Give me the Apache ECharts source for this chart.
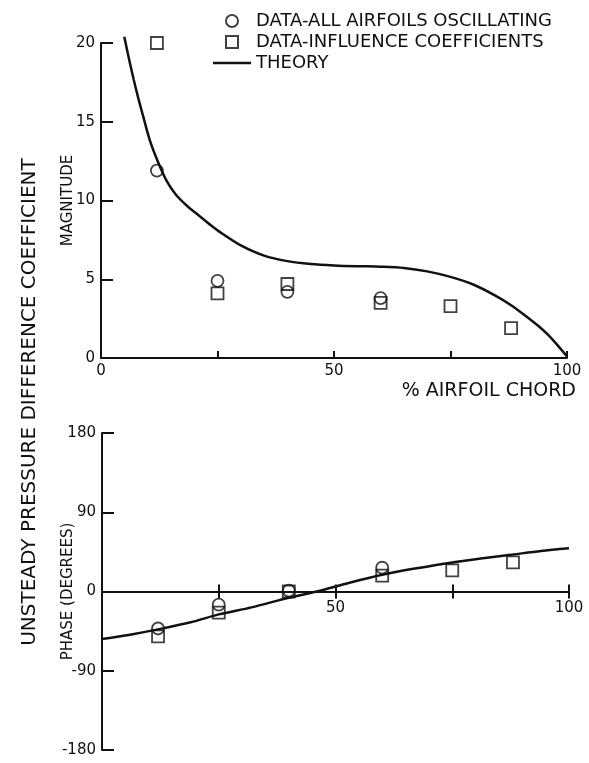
<!DOCTYPE html>
<html>
<head>
<meta charset="utf-8">
<script src="https://cdn.jsdelivr.net/npm/echarts@6/dist/echarts.min.js"></script>
<style>
html,body{margin:0;padding:0;background:#fff;}
#chart{width:589px;height:763px;}
</style>
</head>
<body>
<div id="chart"></div>
<script>
// ---- Data ----
const chordTicks = [0, 25, 50, 75, 100];
const chordLabels = ['0', '50', '100'];
const phaseChordLabels = ['50', '100'];
const magTicks = [0, 5, 10, 15, 20];
const phaseTicks = [-180, -90, 0, 90, 180];

// Magnitude panel
const magCircleX = [12, 25, 40, 60];
const magCircleY = [11.9, 4.9, 4.2, 3.8];
const magSquareX = [12, 25, 40, 60, 75, 88];
const magSquareY = [20, 4.1, 4.7, 3.5, 3.3, 1.9];
const magTheoryX = [5, 6, 7, 8, 9, 10.5, 12.3, 14, 16, 18.5, 21, 23.5, 26, 30, 35, 40, 45, 50, 55, 60, 65, 70, 75, 80, 85, 88, 91, 94, 96, 98, 100];
const magTheoryY = [20.4, 19.0, 17.7, 16.5, 15.4, 13.8, 12.4, 11.3, 10.4, 9.65, 9.05, 8.45, 7.9, 7.15, 6.5, 6.15, 5.97, 5.88, 5.83, 5.8, 5.72, 5.5, 5.15, 4.65, 3.9, 3.35, 2.7, 2.0, 1.45, 0.8, 0.1];

// Phase panel
const phaseCircleX = [12, 25, 40, 60];
const phaseCircleY = [-42, -15, 1, 27];
const phaseSquareX = [12, 25, 40, 60, 75, 88];
const phaseSquareY = [-51, -24, 0, 18, 24, 33];
const phaseTheoryX = [0, 6, 12, 19, 25, 32, 40, 46, 53, 60, 67, 75, 82, 88, 94, 100];
const phaseTheoryY = [-54, -49, -43, -35, -26, -18, -7, 0, 10, 19, 26, 33, 38, 42, 46, 49];

const NAME_CIRCLE = 'DATA-ALL AIRFOILS OSCILLATING';
const NAME_SQUARE = 'DATA-INFLUENCE COEFFICIENTS';
const NAME_THEORY = 'THEORY';

function pairs(xs, ys) { return xs.map((x, i) => [x, ys[i]]); }

const FONT = 'DejaVu Sans';
const INK = '#111';

// layout constants
const G2_TOP = 433, G2_BOTTOM = 13, H = 763;
const G2_HALF = (H - G2_TOP - G2_BOTTOM) / 2;

const chart = echarts.init(document.getElementById('chart'), null, {renderer: 'canvas'});

const symStyle = {color: 'rgba(255,255,255,0)', borderColor: INK, borderWidth: 1.8};

const option = {
  backgroundColor: '#fff',
  animation: false,
  textStyle: {fontFamily: FONT, color: INK},
  legend: {
    orient: 'vertical',
    left: 208,
    top: 7,
    itemWidth: 38,
    itemHeight: 12,
    itemGap: 3,
    symbolKeepAspect: true,
    data: [
      {name: NAME_CIRCLE, icon: 'circle'},
      {name: NAME_SQUARE, icon: 'path://M0,0H10V10H0Z'},
      {name: NAME_THEORY, icon: 'path://M0,0H38V2.5H0Z'}
    ],
    textStyle: {fontFamily: FONT, fontSize: 18, color: INK}
  },
  grid: [
    {left: 101, right: 22, top: 43, bottom: 405},
    {left: 102, right: 20, top: G2_TOP, bottom: G2_BOTTOM}
  ],
  xAxis: [
    {
      type: 'value', gridIndex: 0, min: chordTicks[0], max: chordTicks[chordTicks.length - 1], interval: 25,
      axisLine: {onZero: false, lineStyle: {color: INK, width: 2}},
      axisTick: {inside: true, length: 7, lineStyle: {color: INK, width: 2}},
      axisLabel: {color: INK, fontSize: 15, fontFamily: FONT, margin: 6,
        formatter: v => chordLabels.includes(String(v)) ? String(v) : ''},
      splitLine: {show: false}
    },
    {
      type: 'value', gridIndex: 1, min: chordTicks[0], max: chordTicks[chordTicks.length - 1], interval: 25,
      position: 'bottom', offset: -G2_HALF,
      axisLine: {onZero: false, lineStyle: {color: INK, width: 2}},
      axisTick: {inside: false, length: 7, lineStyle: {color: INK, width: 2}},
      axisLabel: {color: INK, fontSize: 15, fontFamily: FONT, margin: 9,
        formatter: v => phaseChordLabels.includes(String(v)) ? String(v) : ''},
      splitLine: {show: false}
    },
    {
      type: 'value', gridIndex: 1, min: chordTicks[0], max: chordTicks[chordTicks.length - 1], interval: 25,
      position: 'top', offset: -G2_HALF,
      axisLine: {onZero: false, show: false},
      axisTick: {inside: false, length: 7, lineStyle: {color: INK, width: 2}},
      axisLabel: {show: false},
      splitLine: {show: false}
    }
  ],
  yAxis: [
    {
      type: 'value', gridIndex: 0, min: magTicks[0], max: magTicks[magTicks.length - 1], interval: 5,
      name: 'MAGNITUDE', nameLocation: 'middle', nameRotate: 90, nameGap: 25, nameMoveOverlap: false,
      nameTextStyle: {fontFamily: FONT, fontSize: 15, color: INK},
      axisLine: {onZero: false, lineStyle: {color: INK, width: 2}},
      axisTick: {inside: true, length: 12, lineStyle: {color: INK, width: 2}},
      axisLabel: {color: INK, fontSize: 15, fontFamily: FONT, margin: 6},
      splitLine: {show: false}
    },
    {
      type: 'value', gridIndex: 1, min: phaseTicks[0], max: phaseTicks[phaseTicks.length - 1], interval: 90,
      name: 'PHASE (DEGREES)', nameLocation: 'middle', nameRotate: 90, nameGap: 26, nameMoveOverlap: false,
      nameTextStyle: {fontFamily: FONT, fontSize: 15, color: INK, padding: [0, 0, 0, 0]},
      axisLine: {onZero: false, lineStyle: {color: INK, width: 2}},
      axisTick: {inside: true, length: 12, lineStyle: {color: INK, width: 2}},
      axisLabel: {color: INK, fontSize: 15, fontFamily: FONT, margin: 6},
      splitLine: {show: false}
    }
  ],
  graphic: [
    {
      type: 'text', x: 30, y: 402, rotation: Math.PI / 2,
      style: {text: 'UNSTEADY PRESSURE DIFFERENCE COEFFICIENT', fontFamily: FONT, fontSize: 20,
        fill: INK, align: 'center', verticalAlign: 'middle'}
    },
    {
      type: 'text', x: 576, y: 391,
      style: {text: '% AIRFOIL CHORD', fontFamily: FONT, fontSize: 19,
        fill: INK, align: 'right', verticalAlign: 'middle'}
    }
  ],
  series: [
    {
      name: NAME_THEORY, type: 'line', xAxisIndex: 0, yAxisIndex: 0,
      data: pairs(magTheoryX, magTheoryY), showSymbol: false, symbol: 'none', smooth: 0.3, clip: false,
      lineStyle: {color: INK, width: 2.5}, itemStyle: {color: INK}, z: 3
    },
    {
      name: NAME_CIRCLE, type: 'scatter', xAxisIndex: 0, yAxisIndex: 0,
      data: pairs(magCircleX, magCircleY), symbol: 'circle', symbolSize: 12, itemStyle: symStyle, z: 4
    },
    {
      name: NAME_SQUARE, type: 'scatter', xAxisIndex: 0, yAxisIndex: 0,
      data: pairs(magSquareX, magSquareY), symbol: 'rect', symbolSize: 12, itemStyle: symStyle, z: 4
    },
    {
      name: NAME_THEORY, type: 'line', xAxisIndex: 1, yAxisIndex: 1,
      data: pairs(phaseTheoryX, phaseTheoryY), showSymbol: false, symbol: 'none', smooth: 0.3, clip: false,
      lineStyle: {color: INK, width: 2.5}, itemStyle: {color: INK}, z: 3
    },
    {
      name: NAME_CIRCLE, type: 'scatter', xAxisIndex: 1, yAxisIndex: 1,
      data: pairs(phaseCircleX, phaseCircleY), symbol: 'circle', symbolSize: 12, itemStyle: symStyle, z: 4
    },
    {
      name: NAME_SQUARE, type: 'scatter', xAxisIndex: 1, yAxisIndex: 1,
      data: pairs(phaseSquareX, phaseSquareY), symbol: 'rect', symbolSize: 12, itemStyle: symStyle, z: 4
    }
  ]
};
chart.setOption(option);
</script>
</body>
</html>
